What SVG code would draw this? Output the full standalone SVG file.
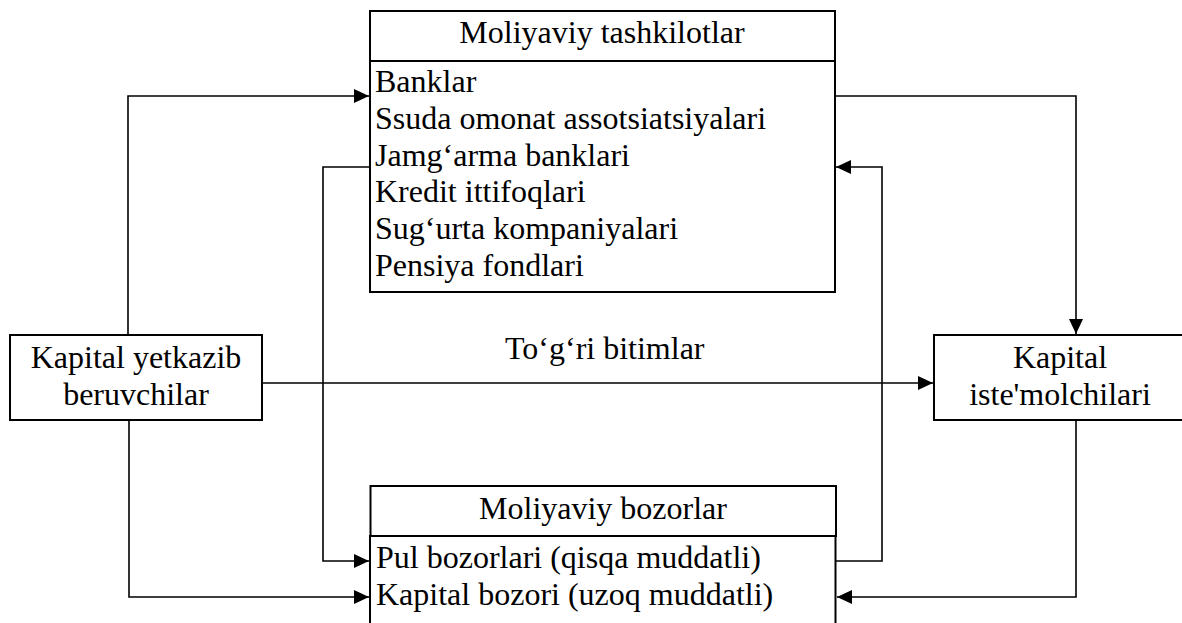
<svg xmlns="http://www.w3.org/2000/svg" width="1182" height="623" viewBox="0 0 1182 623" font-family="'Liberation Serif', 'Times New Roman', Times, serif" font-size="32">
<style>
.box{fill:#fff;stroke:#000;stroke-width:2}
.ln{fill:none;stroke:#000;stroke-width:1.6}
text{font-family:'Liberation Serif','Times New Roman',Times,serif;font-size:32px;fill:#000}
.c{text-anchor:middle}
</style>
<defs>
<marker id="ah" markerUnits="userSpaceOnUse" markerWidth="16" markerHeight="14" refX="15" refY="7" orient="auto">
<path d="M0,0 L15,7 L0,14 Z" fill="#000"/>
</marker>
</defs>
<rect width="1182" height="623" fill="#fff"/>
<g id="connectors">
<path class="ln" d="M128,335 V96 H369" marker-end="url(#ah)"/>
<path class="ln" d="M370,167 H323 V561 H369" marker-end="url(#ah)"/>
<path class="ln" d="M129,420 V597 H369" marker-end="url(#ah)"/>
<path class="ln" d="M262,383 H933" marker-end="url(#ah)"/>
<path class="ln" d="M835,96 H1076 V334" marker-end="url(#ah)"/>
<path class="ln" d="M836,561 H882 V167 H836" marker-end="url(#ah)"/>
<path class="ln" d="M1076,420 V597 H837" marker-end="url(#ah)"/>
<text x="505" y="359">To‘g‘ri bitimlar</text>
</g>
<g id="moliyaviy-tashkilotlar">
<rect class="box" x="370" y="11" width="465" height="50"/>
<rect class="box" x="370" y="61" width="465" height="231"/>
<text class="c" x="602" y="43">Moliyaviy tashkilotlar</text>
<text x="375" y="92">Banklar</text>
<text x="375" y="128.5">Ssuda omonat assotsiatsiyalari</text>
<text x="375" y="165.5">Jamg‘arma banklari</text>
<text x="375" y="202">Kredit ittifoqlari</text>
<text x="375" y="239">Sug‘urta kompaniyalari</text>
<text x="375" y="276">Pensiya fondlari</text>
</g>
<g id="kapital-yetkazib">
<rect class="box" x="10" y="335" width="252" height="85"/>
<text class="c" x="136" y="368">Kapital yetkazib</text>
<text class="c" x="136" y="405">beruvchilar</text>
</g>
<g id="kapital-istemolchilari">
<rect class="box" x="934" y="335" width="252" height="85"/>
<text class="c" x="1060" y="368">Kapital</text>
<text class="c" x="1060" y="405">iste'molchilari</text>
</g>
<g id="moliyaviy-bozorlar">
<rect class="box" x="370.5" y="486" width="465.5" height="50"/>
<rect class="box" x="370" y="536" width="465.5" height="110"/>
<text class="c" x="603" y="519">Moliyaviy bozorlar</text>
<text x="376" y="567.5">Pul bozorlari (qisqa muddatli)</text>
<text x="376" y="605">Kapital bozori (uzoq muddatli)</text>
</g>
</svg>
